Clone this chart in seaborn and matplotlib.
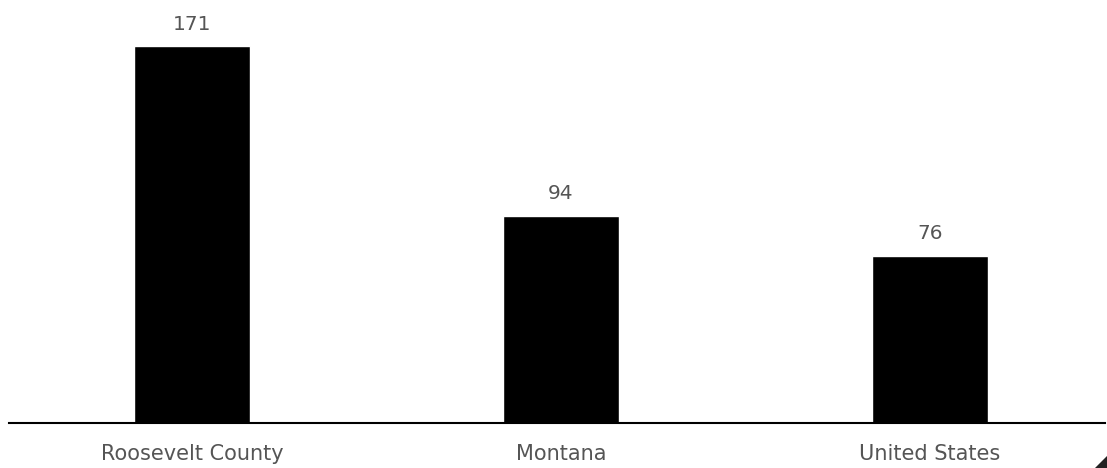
import matplotlib
matplotlib.use("Agg")
import matplotlib.pyplot as plt
import seaborn as sns
import pandas as pd
from matplotlib.patches import Polygon

regions = ["Roosevelt County", "Montana", "United States"]
values = [171, 94, 76]

df = pd.DataFrame({"region": regions, "value": values})

sns.set_theme(style="white")
plt.rcParams['font.family'] = ['DejaVu Sans']

fig = plt.figure(figsize=(11.07, 4.68), dpi=100)
ax = fig.add_axes([9 / 1107, (468 - 423) / 468, 1096 / 1107, 423 / 468])

sns.barplot(data=df, x="region", y="value", color="black", width=0.315,
            saturation=1, ax=ax)

for i, v in enumerate(values):
    ax.annotate(str(v), (i, v), xytext=(0, 9), textcoords="offset points",
                ha="center", va="bottom", fontsize=14.5, color="#555555")

ax.set_xlim(-0.496, 2.475)
ax.set_ylim(0, 192)
ax.set_xlabel("")
ax.set_ylabel("")
ax.set_yticks([])
ax.tick_params(axis="x", length=0, pad=15, labelsize=15, labelcolor="#555555")
for s in ["top", "right", "left"]:
    ax.spines[s].set_visible(False)
ax.spines["bottom"].set_color("black")
ax.spines["bottom"].set_linewidth(1.5)

# small corner mark in the bottom right
tri = Polygon([[1107, 0], [1107, 12], [1095, 0]], closed=True,
              transform=None, facecolor="#222222", edgecolor="none")
fig.patches.append(tri)

fig.savefig("out.png", dpi=100)
